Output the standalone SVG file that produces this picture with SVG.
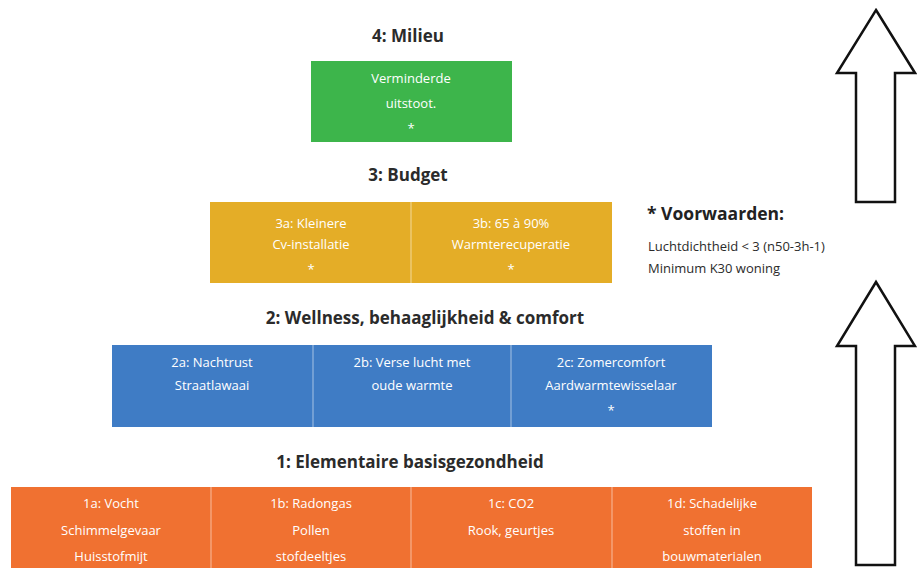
<svg xmlns="http://www.w3.org/2000/svg" width="917" height="568" viewBox="0 0 917 568">
<style>
.title{font-family:"Open Sans","Liberation Sans",sans-serif;font-weight:700;font-size:17px;fill:#2b2b2b;text-anchor:middle}
.cell{font-family:"Open Sans","Liberation Sans",sans-serif;font-size:13px;fill:#ffffff;text-anchor:middle}
.div{stroke:#ffffff;stroke-opacity:0.45;stroke-width:1.2}
.note{font-family:"Open Sans","Liberation Sans",sans-serif;font-size:13px;fill:#2b2b2b}
.noteb{font-family:"Open Sans","Liberation Sans",sans-serif;font-size:17.5px;font-weight:700;fill:#222}
.arrow{fill:#ffffff;stroke:#111;stroke-width:2.5;stroke-linejoin:miter}
</style>
<rect x="0" y="0" width="917" height="568" fill="#ffffff"/>

<g id="level4">
<text class="title" x="408" y="42">4: Milieu</text>
<rect x="311" y="61" width="201" height="81" fill="#3db54b"/>
<text class="cell" x="411" y="83">Verminderde</text>
<text class="cell" x="411" y="108">uitstoot.</text>
<text class="cell" x="411" y="133">*</text>
</g>

<g id="level3">
<text class="title" x="408" y="181">3: Budget</text>
<rect x="210" y="202" width="402" height="81" fill="#e4ad27"/>
<line class="div" x1="411" y1="202" x2="411" y2="283"/>
<text class="cell" x="311" y="228">3a: Kleinere</text>
<text class="cell" x="311" y="249">Cv-installatie</text>
<text class="cell" x="311" y="274">*</text>
<text class="cell" x="511" y="228">3b: 65 à 90%</text>
<text class="cell" x="511" y="249">Warmterecuperatie</text>
<text class="cell" x="511" y="274">*</text>
</g>

<g id="level2">
<text class="title" x="425" y="324">2: Wellness, behaaglijkheid &amp; comfort</text>
<rect x="112" y="345" width="600" height="82" fill="#3f7cc5"/>
<line class="div" x1="313" y1="345" x2="313" y2="427"/>
<line class="div" x1="511" y1="345" x2="511" y2="427"/>
<text class="cell" x="212" y="367">2a: Nachtrust</text>
<text class="cell" x="212" y="390">Straatlawaai</text>
<text class="cell" x="412" y="367">2b: Verse lucht met</text>
<text class="cell" x="412" y="390">oude warmte</text>
<text class="cell" x="611" y="367">2c: Zomercomfort</text>
<text class="cell" x="611" y="390">Aardwarmtewisselaar</text>
<text class="cell" x="611" y="415">*</text>
</g>

<g id="level1">
<text class="title" x="410" y="468">1: Elementaire basisgezondheid</text>
<rect x="11" y="487" width="801" height="85" fill="#f07131"/>
<line class="div" x1="211" y1="487" x2="211" y2="568"/>
<line class="div" x1="411" y1="487" x2="411" y2="568"/>
<line class="div" x1="612" y1="487" x2="612" y2="568"/>
<text class="cell" x="111" y="508">1a: Vocht</text>
<text class="cell" x="111" y="535">Schimmelgevaar</text>
<text class="cell" x="111" y="561">Huisstofmijt</text>
<text class="cell" x="311" y="508">1b: Radongas</text>
<text class="cell" x="311" y="535">Pollen</text>
<text class="cell" x="311" y="561">stofdeeltjes</text>
<text class="cell" x="511" y="508">1c: CO2</text>
<text class="cell" x="511" y="535">Rook, geurtjes</text>
<text class="cell" x="712" y="508">1d: Schadelijke</text>
<text class="cell" x="712" y="535">stoffen in</text>
<text class="cell" x="712" y="561">bouwmaterialen</text>
</g>

<g id="voorwaarden">
<text class="noteb" x="647" y="220">* Voorwaarden:</text>
<text class="note" x="648" y="251">Luchtdichtheid &lt; 3 (n50-3h-1)</text>
<text class="note" x="648" y="273">Minimum K30 woning</text>
</g>

<g id="connectors">
<polygon class="arrow" points="876,10 915,73 895,73 895,202 856,202 856,73 837,73"/>
<polygon class="arrow" points="876,282 915,346 895,346 895,565 856,565 856,346 837,346"/>
</g>
</svg>
